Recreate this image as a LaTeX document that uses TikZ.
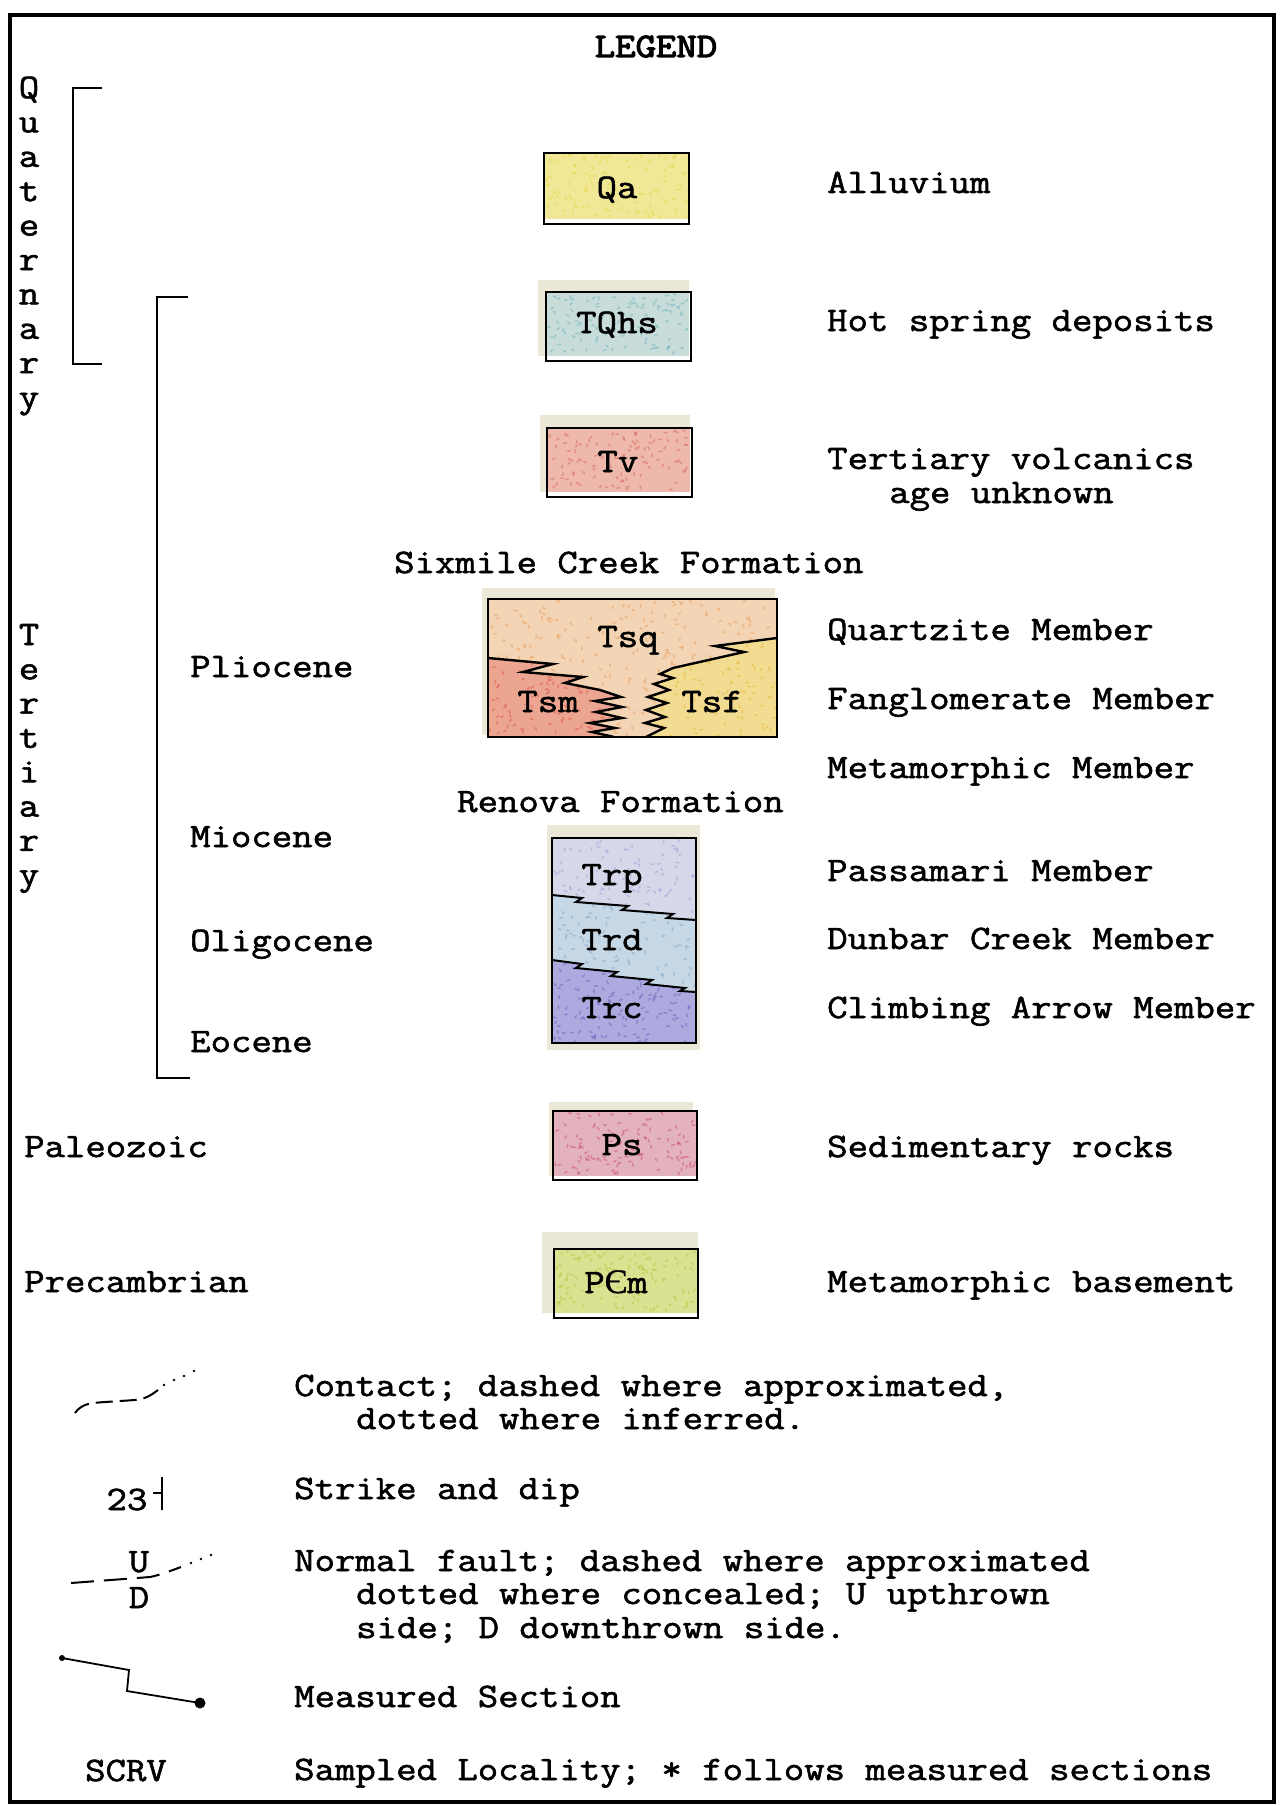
\documentclass[tikz,border=0pt]{standalone}
\usepackage{fontspec}
\newfontfamily\tw[FakeBold=1.7, FakeStretch=1.155]{Latin Modern Mono}
\newfontfamily\twb[FakeBold=3.4, FakeStretch=1.155]{Latin Modern Mono}
\newfontfamily\cyr[FakeBold=1]{Liberation Serif}
\definecolor{paper}{RGB}{236,232,216}
\definecolor{cQa}{RGB}{240,232,150}
\definecolor{dQa}{RGB}{228,210,60}
\definecolor{cTQhs}{RGB}{200,220,218}
\definecolor{dTQhs}{RGB}{100,175,185}
\definecolor{cTv}{RGB}{238,185,172}
\definecolor{dTv}{RGB}{215,95,85}
\definecolor{cTsq}{RGB}{243,212,180}
\definecolor{dTsq}{RGB}{232,150,80}
\definecolor{cTsm}{RGB}{236,165,145}
\definecolor{dTsm}{RGB}{215,80,60}
\definecolor{cTsf}{RGB}{242,220,145}
\definecolor{dTsf}{RGB}{232,180,50}
\definecolor{cTrp}{RGB}{214,216,234}
\definecolor{dTrp}{RGB}{150,155,210}
\definecolor{cTrd}{RGB}{198,216,230}
\definecolor{dTrd}{RGB}{120,160,200}
\definecolor{cTrc}{RGB}{172,170,222}
\definecolor{dTrc}{RGB}{100,90,190}
\definecolor{cPs}{RGB}{228,178,190}
\definecolor{dPs}{RGB}{200,70,100}
\definecolor{cPCm}{RGB}{218,226,145}
\definecolor{dPCm}{RGB}{170,195,50}
\newcommand{\speckles}[6]{%
  \foreach \k in {1,...,#6}{%
    \pgfmathsetmacro{\sx}{#2+rnd*(#4-#2)}%
    \pgfmathsetmacro{\sy}{#3+rnd*(#5-#3)}%
    \pgfmathsetmacro{\sa}{rnd*180}%
    \fill[#1, opacity=0.45, rotate around={\sa:(\sx,\sy)}] (\sx,\sy) ellipse (2.2pt and 0.9pt);
  }}
\tikzset{
  txt/.style={anchor=base west, inner sep=0pt, font=\tw\fontsize{34.3}{34.3}\selectfont},
  ctxt/.style={anchor=base, inner sep=0pt, font=\tw\fontsize{34.3}{34.3}\selectfont},
  boxline/.style={draw=black, line width=2pt},
  contactline/.style={draw=black, line width=2.4pt, line join=miter},
  bracketline/.style={draw=black, line width=1.5pt},
  symline/.style={draw=black, line width=2pt},
}
\def\sixL{(488,658) -- (553,664) -- (523,672) -- (583,677) -- (565,683) -- (600,690) -- (621,697) -- (595,701) -- (622,707) -- (596,712) -- (622,718) -- (590,723) -- (615,728) -- (592,732) -- (614,737)}
\def\sixR{(777,638) -- (715,646) -- (744,652) -- (673,668) -- (660,674) -- (673,678) -- (654,684) -- (669,690) -- (648,697) -- (667,703) -- (646,710) -- (665,717) -- (645,723) -- (664,728) -- (646,737)}
\def\renA{(552,895) -- (582,898) -- (576,902) -- (628,906) -- (622,910) -- (673,914) -- (667,918) -- (696,920)}
\def\renB{(552,960) -- (582,964) -- (576,968) -- (617,972) -- (611,976) -- (652,980) -- (646,984) -- (685,988) -- (680,991) -- (696,992)}
\begin{document}
\begin{tikzpicture}[x=1pt,y=-1pt]
\pgfmathsetseed{4242}
\useasboundingbox (0,0) rectangle (1281,1806);
\fill[white] (0,0) rectangle (1281,1806);
% frame
\draw[line width=4pt] (10,15) rectangle (1274,1802);

% title
\node[anchor=base, inner sep=0pt, font=\twb\fontsize{34.3}{34.3}\selectfont] (title) at (656,57) {LEGEND};

% vertical era words
\foreach \ch [count=\i from 0] in {Q,u,a,t,e,r,n,a,r,y}
  \node[ctxt] (quat\i) at (29,{98+34.4*\i}) {\ch};
\foreach \ch [count=\i from 0] in {T,e,r,t,i,a,r,y}
  \node[ctxt] (tert\i) at (29,{645+34.3*\i}) {\ch};

% brackets
\coordinate (qb1) at (102,88); \coordinate (qb2) at (73,88);
\coordinate (qb3) at (73,364); \coordinate (qb4) at (102,364);
\draw[bracketline] (qb1) -- (qb2) -- (qb3) -- (qb4);
\coordinate (tb1) at (188,297); \coordinate (tb2) at (157,297);
\coordinate (tb3) at (157,1078); \coordinate (tb4) at (190,1078);
\draw[bracketline] (tb1) -- (tb2) -- (tb3) -- (tb4);

% epoch labels
\node[txt] (plio) at (190,677) {Pliocene};
\node[txt] (mio) at (190,847) {Miocene};
\node[txt] (oligo) at (190,951) {Oligocene};
\node[txt] (eo) at (190,1052) {Eocene};
\node[txt] (paleo) at (24,1157) {Paleozoic};
\node[txt] (precam) at (24,1292) {Precambrian};

% ---- boxes ----
% Qa
\fill[cQa] (544,153) rectangle (689,219);
\speckles{dQa}{546}{155}{687}{217}{110}
\draw[boxline] (544,153) rectangle (689,224);
\node[ctxt] (qa) at (617,198) {Qa};
% TQhs
\fill[paper] (538,280) rectangle (689,356);
\fill[cTQhs] (546,292) rectangle (689,356);
\speckles{dTQhs}{548}{294}{687}{354}{110}
\draw[boxline] (546,292) rectangle (691,361);
\node[ctxt] (tqhs) at (617,333) {TQhs};
% Tv
\fill[paper] (540,415) rectangle (690,492);
\fill[cTv] (547,428) rectangle (690,492);
\speckles{dTv}{549}{430}{688}{490}{110}
\draw[boxline] (547,428) rectangle (692,497);
\node[ctxt] (tv) at (618,472) {Tv};

% Sixmile Creek
\fill[paper] (482,588) rectangle (775,735);
\fill[cTsq] (488,599) rectangle (777,737);
\speckles{dTsq}{490}{601}{775}{735}{260}
\begin{scope}
  \clip \sixL -- (488,737) -- cycle;
  \fill[cTsm] (488,599) rectangle (777,737);
  \speckles{dTsm}{488}{650}{625}{737}{120}
\end{scope}
\begin{scope}
  \clip \sixR -- (777,737) -- cycle;
  \fill[cTsf] (488,599) rectangle (777,737);
  \speckles{dTsf}{640}{630}{777}{737}{120}
\end{scope}
\draw[contactline] \sixL;
\draw[contactline] \sixR;
\draw[boxline] (488,599) rectangle (777,737);
\node[ctxt] (tsq) at (628,647) {Tsq};
\node[ctxt] (tsm) at (548,712) {Tsm};
\node[ctxt] (tsf) at (712,712) {Tsf};
\node[txt] (sixmile) at (394,573) {Sixmile Creek Formation};

% Renova
\node[txt] (renova) at (457,812) {Renova Formation};
\fill[paper] (547,825) rectangle (700,1050);
\fill[cTrp] (552,838) rectangle (696,1043);
\speckles{dTrp}{554}{840}{694}{925}{110}
\begin{scope}
  \clip \renA -- (696,1043) -- (552,1043) -- cycle;
  \fill[cTrd] (552,838) rectangle (696,1043);
  \speckles{dTrd}{552}{890}{696}{995}{120}
\end{scope}
\begin{scope}
  \clip \renB -- (696,1043) -- (552,1043) -- cycle;
  \fill[cTrc] (552,838) rectangle (696,1043);
  \speckles{dTrc}{552}{955}{696}{1043}{150}
\end{scope}
\draw[contactline, line width=2pt] \renA;
\draw[contactline, line width=2pt] \renB;
\draw[boxline] (552,838) rectangle (696,1043);
\node[ctxt] (trp) at (612,885) {Trp};
\node[ctxt] (trd) at (612,950) {Trd};
\node[ctxt] (trc) at (612,1018) {Trc};

% Ps
\fill[paper] (549,1102) rectangle (693,1176);
\fill[cPs] (553,1111) rectangle (697,1176);
\speckles{dPs}{555}{1113}{695}{1174}{120}
\draw[boxline] (553,1111) rectangle (697,1180);
\node[ctxt] (ps) at (622,1155) {Ps};
% PCm
\fill[paper] (542,1232) rectangle (698,1313);
\fill[cPCm] (554,1249) rectangle (698,1313);
\speckles{dPCm}{556}{1251}{696}{1311}{120}
\draw[boxline] (554,1249) rectangle (698,1318);
\node[ctxt] (pcm) at (616,1293) {P{\cyr\fontsize{34.3}{34.3}\selectfont Є}m};

% right column descriptions
\node[txt] (d1) at (827,193) {Alluvium};
\node[txt] (d2) at (827,331) {Hot spring deposits};
\node[txt] (d3) at (827,469) {Tertiary volcanics};
\node[txt] (d3b) at (889,503) {age unknown};
\node[txt] (d4) at (827,640) {Quartzite Member};
\node[txt] (d5) at (827,709) {Fanglomerate Member};
\node[txt] (d6) at (827,778) {Metamorphic Member};
\node[txt] (d7) at (827,881) {Passamari Member};
\node[txt] (d8) at (827,949) {Dunbar Creek Member};
\node[txt] (d9) at (827,1018) {Climbing Arrow Member};
\node[txt] (d10) at (827,1157) {Sedimentary rocks};
\node[txt] (d11) at (827,1292) {Metamorphic basement};

% ---- symbols ----
% contact
\coordinate (c1) at (75,1413); \coordinate (c2) at (158,1390);
\draw[symline, dash pattern=on 17pt off 7pt] (c1) .. controls (82,1403) and (92,1403) .. (105,1402) -- (135,1400) .. controls (145,1399) and (150,1396) .. (c2);
\foreach \px/\py in {164/1385,174/1380,184/1376,194/1371}
  \fill (\px,\py) circle (1.4pt);
\node[txt] (ct1) at (294,1396) {Contact; dashed where approximated,};
\node[txt] (ct2) at (356,1429) {dotted where inferred.};

% strike and dip
\node[ctxt] (sdnum) at (127,1510) {23};
\coordinate (sd1) at (162,1477); \coordinate (sd2) at (162,1510);
\coordinate (sd3) at (153,1493); \coordinate (sd4) at (162,1493);
\draw[line width=1.4pt] (sd1) -- (sd2);
\draw[line width=1.4pt] (sd3) -- (sd4);
\node[txt] (sdtxt) at (294,1499) {Strike and dip};

% normal fault
\node[ctxt] (fu) at (139,1572) {U};
\node[ctxt] (fd) at (139,1608) {D};
\coordinate (f1) at (71,1583); \coordinate (f2) at (181,1567);
\draw[symline, dash pattern=on 23pt off 10pt] (f1) -- (150,1577) .. controls (160,1575) and (170,1571) .. (f2);
\foreach \px/\py in {191/1563,201/1559,211/1555}
  \fill (\px,\py) circle (1.4pt);
\node[txt] (nf1) at (294,1571) {Normal fault; dashed where approximated};
\node[txt] (nf2) at (356,1604) {dotted where concealed; U upthrown};
\node[txt] (nf3) at (356,1638) {side; D downthrown side.};

% measured section
\coordinate (ms1) at (62,1658); \coordinate (ms2) at (129,1670);
\coordinate (ms3) at (127,1691); \coordinate (ms4) at (200,1703);
\draw[line width=1.8pt] (ms1) -- (ms2) -- (ms3) -- (ms4);
\fill (ms1) circle (3pt);
\fill (ms4) circle (5.5pt);
\node[txt] (mstxt) at (294,1707) {Measured Section};

% sampled locality
\node[ctxt] (scrv) at (126,1781) {SCRV};
\node[txt] (sltxt) at (294,1780) {Sampled Locality; * follows measured sections};
\end{tikzpicture}
\end{document}
